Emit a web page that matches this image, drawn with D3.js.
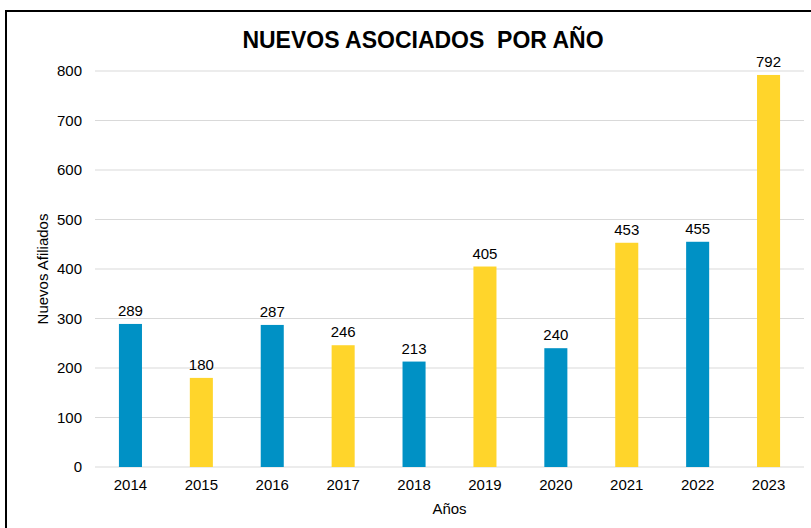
<!DOCTYPE html>
<html>
<head>
<meta charset="utf-8">
<script src="https://cdn.jsdelivr.net/npm/d3@7"></script>
<style>
  body { margin: 0; background: #fff; }
  svg { font-family: "Liberation Sans", Arial, sans-serif; }
  .grid line { stroke: #d9d9d9; stroke-width: 1; }
  .axis text { font-size: 15px; fill: #000; }
</style>
</head>
<body>
<div class="barchart"></div>
<script>
var years = ["2014", "2015", "2016", "2017", "2018", "2019", "2020", "2021", "2022", "2023"];
var nuevos = [289, 180, 287, 246, 213, 405, 240, 453, 455, 792];
var colores = ["#0091c5", "#ffd52b"];
var yTicks = [0, 100, 200, 300, 400, 500, 600, 700, 800];

var W = 811, H = 528;
var margin = {top: 71, right: 7, bottom: 61, left: 95},
    width = W - margin.left - margin.right,
    height = H - margin.top - margin.bottom;

var svg = d3.select(".barchart").append("svg")
    .attr("width", W)
    .attr("height", H);

// chart border
svg.append("rect")
  .attr("x", 6).attr("y", 11)
  .attr("width", 900).attr("height", 600)
  .attr("fill", "none")
  .attr("stroke", "#000")
  .attr("stroke-width", 2);

var g = svg.append("g")
    .attr("transform", "translate(" + margin.left + "," + margin.top + ")");

var x = d3.scaleBand()
  .domain(years)
  .range([0, width])
  .paddingInner(0.675)
  .paddingOuter(0.3375);

var y = d3.scaleLinear()
  .domain([0, 800])
  .range([height, 0]);

// gridlines
g.append("g")
  .attr("class", "grid")
  .selectAll("line")
  .data(yTicks)
  .enter().append("line")
    .attr("x1", 0).attr("x2", width)
    .attr("y1", function (d) { return y(d); })
    .attr("y2", function (d) { return y(d); });

var yAxis = g.append("g")
  .attr("class", "axis")
  .call(d3.axisLeft(y).tickValues(yTicks).tickSize(0).tickPadding(13));
yAxis.select(".domain").remove();

var xAxis = g.append("g")
  .attr("class", "axis")
  .attr("transform", "translate(0," + height + ")")
  .call(d3.axisBottom(x).tickSize(0).tickPadding(12));
xAxis.select(".domain").remove();

g.selectAll(".bar")
  .data(years)
  .enter().append("rect")
    .attr("class", "bar")
    .attr("x", function (d) { return x(d); })
    .attr("y", function (d, i) { return y(nuevos[i]); })
    .attr("width", x.bandwidth())
    .attr("height", function (d, i) { return height - y(nuevos[i]); })
    .attr("fill", function (d, i) { return colores[i % 2]; });

g.selectAll(".val")
  .data(years)
  .enter().append("text")
    .attr("class", "val")
    .attr("x", function (d) { return x(d) + x.bandwidth() / 2; })
    .attr("y", function (d, i) { return y(nuevos[i]) - 8; })
    .attr("text-anchor", "middle")
    .style("font-size", "15px")
    .text(function (d, i) { return nuevos[i]; });

svg.append("text")
  .attr("x", 423).attr("y", 48)
  .attr("text-anchor", "middle")
  .style("font-size", "23px")
  .style("font-weight", "bold")
  .style("white-space", "pre")
  .text("NUEVOS ASOCIADOS  POR AÑO");

svg.append("text")
  .attr("x", margin.left + width / 2).attr("y", 514)
  .attr("text-anchor", "middle")
  .style("font-size", "15px")
  .text("Años");

svg.append("text")
  .attr("transform", "translate(48," + (margin.top + height / 2) + ") rotate(-90)")
  .attr("text-anchor", "middle")
  .style("font-size", "15px")
  .text("Nuevos Afiliados");
</script>
</body>
</html>
